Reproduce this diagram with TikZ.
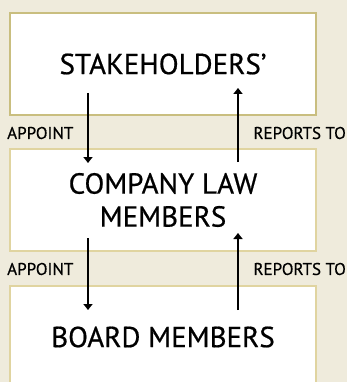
\documentclass[tikz,border=0pt]{standalone}
\usepackage{fontspec}
\setmainfont{PT Sans}
\newfontfamily\dinlike{PT Sans}[Ligatures=TeX, FakeBold=0.6]
\usetikzlibrary{positioning}
\usetikzlibrary{arrows.meta}

\definecolor{paper}{RGB}{239,235,220}
\definecolor{rimdark}{RGB}{201,190,127}
\definecolor{rimlight}{RGB}{224,212,160}

\tikzset{
  level/.style={draw=rimlight, line width=2pt, fill=white, minimum width=306pt,
    minimum height=102pt, align=center, inner sep=0pt,
    font=\dinlike\fontsize{29}{33}\selectfont},
  tag/.style={inner sep=0pt, font=\dinlike\fontsize{17}{20}\selectfont},
  link/.style={-{Triangle[width=9pt,length=6pt]}, line width=1.5pt},
}

\begin{document}
\begin{tikzpicture}[x=1pt, y=-1pt]

\fill[paper] (0,0) rectangle (347,382);
\clip (0,0) rectangle (347,382);
\useasboundingbox (0,0) rectangle (347,382);

\node (stake) [level, draw=rimdark] at (163,64) {STAKEHOLDERS'};
\node (law) [level] at (163,200) {COMPANY LAW\\MEMBERS};
\node (board) [level] at (163,337) {BOARD MEMBERS};

\node (app1) [tag, anchor=west] at (7,133) {APPOINT};
\node (rep1) [tag, anchor=east] at (346,133) {REPORTS TO};
\node (app2) [tag, anchor=west] at (7,269) {APPOINT};
\node (rep2) [tag, anchor=east] at (346,269) {REPORTS TO};

% arrow ends
\coordinate (d1a) at (88,93);
\coordinate (d1b) at (88,163);
\coordinate (u1a) at (238,162);
\coordinate (u1b) at (238,88);
\coordinate (d2a) at (88,238);
\coordinate (d2b) at (88,310);
\coordinate (u2a) at (238,310);
\coordinate (u2b) at (238,233);

\draw[link] (d1a) -- (d1b);
\draw[link] (u1a) -- (u1b);
\draw[link] (d2a) -- (d2b);
\draw[link] (u2a) -- (u2b);

\end{tikzpicture}
\end{document}
